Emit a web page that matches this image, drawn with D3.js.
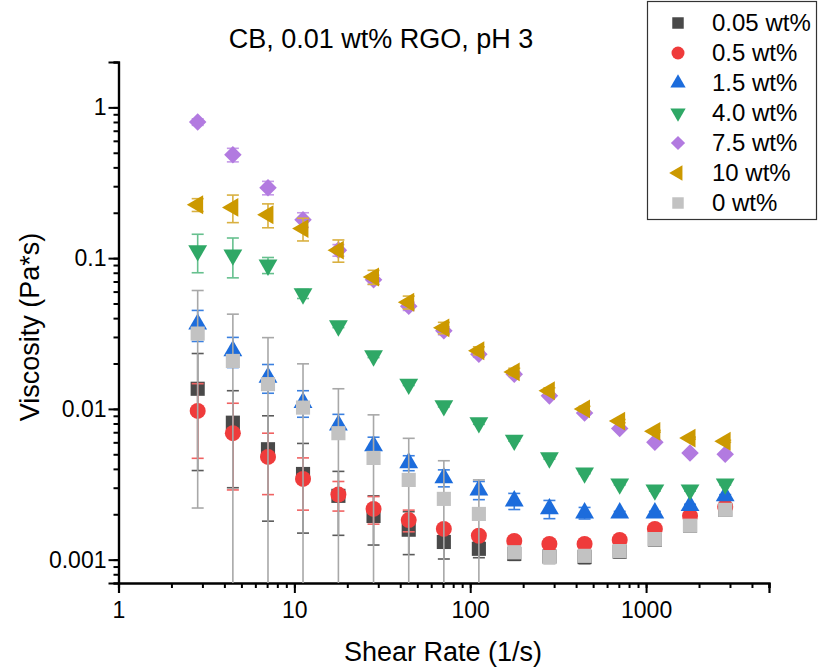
<!DOCTYPE html>
<html>
<head>
<meta charset="utf-8">
<script src="https://cdn.jsdelivr.net/npm/d3@7"></script>
<style>
    body { margin: 0; background: #fff; }
    svg text { font-family: "Liberation Sans", Arial, sans-serif; fill: #000; }
</style>
</head>
<body>
<div id="chart"></div>
<script>
// shear rate (1/s)
const shearRate = [2.82, 4.47, 7.08, 11.2, 17.8, 28.2, 44.7, 70.8, 112, 178, 282, 447, 708, 1122, 1778, 2818];

// viscosity (Pa*s) and standard deviation for each loading
const visc005 = [0.0136, 0.0081, 0.0054, 0.0037, 0.00265, 0.00195, 0.00158, 0.00131, 0.00118, 0.00109, 0.00105, 0.00104, 0.00113, 0.00136, 0.00168, 0.00214];
const err005 = [0.0097, 0.0051, 0.0036, 0.0022, 0.0012, 0.0007, 0.0005, 0.0003, 0.00015, 0.0001, 0.00005, 0.0001, 0.0001, 0.0001, 0.0001, 0.0001];
const visc05 = [0.0097, 0.0069, 0.0048, 0.00343, 0.0027, 0.00217, 0.00183, 0.0016, 0.00144, 0.00133, 0.00127, 0.00127, 0.00135, 0.0016, 0.00195, 0.00224];
const err05 = [0.005, 0.004, 0.0021, 0.0013, 0.0006, 0.00045, 0.0003, 0.0001, 0.00005, 0.00005, 0.00003, 0.00003, 0.00003, 0.00003, 0.00003, 0.00003];
const visc15 = [0.0365, 0.0243, 0.0162, 0.011, 0.0078, 0.00569, 0.00439, 0.00349, 0.0029, 0.00245, 0.00217, 0.00204, 0.00204, 0.00204, 0.00228, 0.00265];
const err15 = [0.0085, 0.0055, 0.0035, 0.0022, 0.0014, 0.0008, 0.0005, 0.00045, 0.0004, 0.0003, 0.0003, 0.00018, 0.00005, 0.00005, 0.00005, 0.00005];
const visc40 = [0.112, 0.105, 0.090, 0.058, 0.0356, 0.0225, 0.0146, 0.0105, 0.0081, 0.0062, 0.00474, 0.00376, 0.00318, 0.0029, 0.0029, 0.00318];
const err40 = [0.032, 0.031, 0.011, 0.004, 0.001, 0.0006, 0.0003, 0.0002, 0.0002, 0.0001, 0.0001, 0.00005, 0.00005, 0.00005, 0.00005, 0.00005];
const visc75 = [0.80, 0.485, 0.293, 0.18, 0.113, 0.072, 0.048, 0.033, 0.023, 0.017, 0.0122, 0.0094, 0.0074, 0.0060, 0.0051, 0.0050];
const err75 = [0.04, 0.05, 0.03, 0.02, 0.01, 0.005, 0.003, 0.002, 0.001, 0.0006, 0.0003, 0.0002, 0.0001, 0.0001, 0.0001, 0.0001];
const visc10 = [0.226, 0.217, 0.194, 0.157, 0.113, 0.075, 0.051, 0.0345, 0.0243, 0.0176, 0.0132, 0.0100, 0.0083, 0.0071, 0.0064, 0.0061];
const err10 = [0.022, 0.045, 0.035, 0.027, 0.019, 0.008, 0.005, 0.003, 0.0015, 0.001, 0.0006, 0.0004, 0.0002, 0.0001, 0.0001, 0.0001];
const visc0 = [0.0316, 0.0208, 0.0146, 0.0102, 0.0069, 0.00473, 0.00338, 0.00253, 0.00201, 0.00112, 0.00104, 0.00106, 0.00114, 0.00137, 0.00168, 0.00214];
const err0 = [0.0294, 0.0217, 0.0151, 0.0097, 0.0067, 0.0044, 0.0030, 0.0020, 0.00137, 0.0001, 0.0001, 0.00005, 0.00005, 0.00005, 0.00005, 0.00005];

const seriesNames = ["0.05 wt%", "0.5 wt%", "1.5 wt%", "4.0 wt%", "7.5 wt%", "10 wt%", "0 wt%"];
const xTickLabels = [1, 10, 100, 1000];
const yTickLabels = [0.001, 0.01, 0.1, 1];

const series = [
    {name: seriesNames[0], values: visc005, errors: err005, color: "#494949", bar: "#5a5a5a", shape: "square"},
    {name: seriesNames[1], values: visc05, errors: err05, color: "#ef3b3b", bar: "#f06262", shape: "circle"},
    {name: seriesNames[2], values: visc15, errors: err15, color: "#1c6cdc", bar: "#3b80e0", shape: "up"},
    {name: seriesNames[3], values: visc40, errors: err40, color: "#2fa866", bar: "#66c08e", shape: "down"},
    {name: seriesNames[4], values: visc75, errors: err75, color: "#b27ae0", bar: "#c59ae8", shape: "diamond"},
    {name: seriesNames[5], values: visc10, errors: err10, color: "#cc9900", bar: "#d9b040", shape: "left"},
    {name: seriesNames[6], values: visc0, errors: err0, color: "#c2c2c2", bar: "#a8a8a8", shape: "square"}
];

const W = 819, H = 670;
const svg = d3.select("#chart").append("svg")
    .attr("width", W)
    .attr("height", H);

// plot area in page pixels
const plotLeft = 118.5, plotRight = 769, plotTop = 62, plotBottom = 583;

const x = d3.scaleLog().domain([1, 5000]).range([plotLeft, plotRight]);
const y = d3.scaleLog().domain([0.0007, 2]).range([plotBottom, plotTop]);

function minorTicks(lo, hi) {
    let out = [];
    for (let e = -4; e <= 4; e++) {
        for (let k = 1; k <= 9; k++) {
            let v = +(k * Math.pow(10, e)).toPrecision(3);
            if (v >= lo && v <= hi) out.push(v);
        }
    }
    return out;
}

// symbol paths
function symbolPath(shape, s) {
    if (shape === "circle") return d3.symbol(d3.symbolCircle, s * s * Math.PI / 4)();
    if (shape === "square") return d3.symbol(d3.symbolSquare, s * s * 0.78)();
    if (shape === "diamond") return d3.symbol(d3.symbolSquare, s * s * 0.6)();
    return d3.symbol(d3.symbolTriangle, s * s * 0.6)();
}
function symbolRotate(shape) {
    if (shape === "down") return 180;
    if (shape === "left") return -90;
    if (shape === "diamond") return 45;
    return 0;
}

// axes
const xAxisG = svg.append("g").attr("transform", "translate(0," + plotBottom + ")");
xAxisG.append("g").call(d3.axisBottom(x).tickValues(minorTicks(1, 5000)).tickSize(5).tickFormat(""));
xAxisG.append("g").call(d3.axisBottom(x).tickValues(xTickLabels).tickSize(10).tickPadding(9).tickFormat(d3.format("d")));

const yAxisG = svg.append("g").attr("transform", "translate(" + plotLeft + ",0)");
yAxisG.append("g").call(d3.axisLeft(y).tickValues(minorTicks(0.0007, 2)).tickSize(5).tickFormat(""));
yAxisG.append("g").call(d3.axisLeft(y).tickValues(yTickLabels).tickSize(10).tickPadding(2).tickFormat(d => String(d)));

svg.selectAll(".domain").attr("stroke", "#000").attr("stroke-width", 2.2);
svg.selectAll(".tick line").attr("stroke", "#000").attr("stroke-width", 2);
svg.selectAll(".tick text").attr("font-size", 23).attr("font-family", "Liberation Sans, Arial, sans-serif");

// error bars, then markers, series by series
series.forEach(function (s) {
    let pts = shearRate.map((r, i) => ({r: r, v: s.values[i], e: s.errors[i]}));
    let g = svg.append("g");
    let bars = g.selectAll(".eb").data(pts).enter().append("g")
        .attr("stroke", s.bar)
        .attr("stroke-width", 1.6)
        .attr("fill", "none");
    bars.append("line")
        .attr("x1", d => x(d.r)).attr("x2", d => x(d.r))
        .attr("y1", d => y(d.v + d.e))
        .attr("y2", d => d.v - d.e > y.domain()[0] ? y(d.v - d.e) : plotBottom);
    bars.append("line")
        .attr("x1", d => x(d.r) - 6).attr("x2", d => x(d.r) + 6)
        .attr("y1", d => y(d.v + d.e)).attr("y2", d => y(d.v + d.e));
    bars.filter(d => d.v - d.e > y.domain()[0]).append("line")
        .attr("x1", d => x(d.r) - 6).attr("x2", d => x(d.r) + 6)
        .attr("y1", d => y(d.v - d.e)).attr("y2", d => y(d.v - d.e));

    g.selectAll(".pt").data(pts).enter().append("path")
        .attr("d", symbolPath(s.shape, 16))
        .attr("fill", s.color)
        .attr("transform", d => "translate(" + x(d.r) + "," + y(d.v) + ") rotate(" + symbolRotate(s.shape) + ")");
});

// titles
svg.append("text")
    .attr("x", 381).attr("y", 48)
    .attr("text-anchor", "middle")
    .attr("font-size", 27)
    .text("CB, 0.01 wt% RGO, pH 3");

svg.append("text")
    .attr("x", 443).attr("y", 661)
    .attr("text-anchor", "middle")
    .attr("font-size", 27)
    .text("Shear Rate (1/s)");

svg.append("text")
    .attr("transform", "translate(39,327) rotate(-90)")
    .attr("text-anchor", "middle")
    .attr("font-size", 27)
    .text("Viscosity (Pa*s)");

// legend
const legend = svg.append("g");
legend.append("rect")
    .attr("x", 647.5).attr("y", 1.5)
    .attr("width", 169).attr("height", 218)
    .attr("fill", "#fff")
    .attr("stroke", "#333")
    .attr("stroke-width", 1.2);
const rows = legend.selectAll(".row").data(series).enter().append("g")
    .attr("transform", (d, i) => "translate(678," + (23 + i * 30) + ")");
rows.append("path")
    .attr("d", d => symbolPath(d.shape, 13))
    .attr("fill", d => d.color)
    .attr("transform", d => "rotate(" + symbolRotate(d.shape) + ")");
rows.append("text")
    .attr("x", 34).attr("y", 8)
    .attr("font-size", 24)
    .text(d => d.name);
</script>
</body>
</html>
